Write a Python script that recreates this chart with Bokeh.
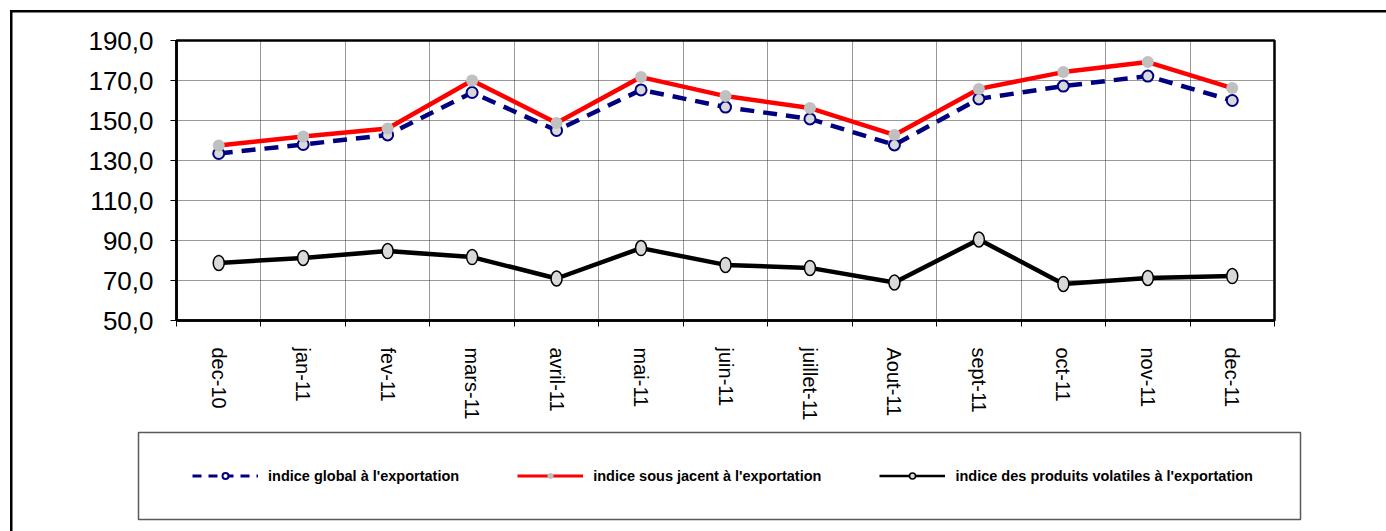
from bokeh.plotting import figure
from bokeh.layouts import column
from bokeh.models import (Range1d, FixedTicker, Legend, LegendItem, ColumnDataSource,
                          BoxAnnotation)
from bokeh.embed import file_html
from bokeh.resources import INLINE

# ---- data -----------------------------------------------------------------
months = ["dec-10", "jan-11", "fev-11", "mars-11", "avril-11", "mai-11", "juin-11",
          "juillet-11", "Aout-11", "sept-11", "oct-11", "nov-11", "dec-11"]
indice_global = [133.5, 138.0, 142.8, 164.0, 145.0, 165.3, 156.7, 150.8, 137.8,
                 160.8, 167.2, 172.2, 160.0]
indice_sous_jacent = [137.5, 142.0, 146.0, 170.0, 148.8, 171.7, 162.2, 156.2, 142.8,
                      165.8, 174.2, 179.2, 166.2]
indice_volatiles = [78.8, 81.3, 84.7, 81.7, 71.0, 86.2, 77.8, 76.3, 69.0, 90.5,
                    68.3, 71.3, 72.2]
y_ticks = [50, 70, 90, 110, 130, 150, 170, 190]
y_tick_labels = ["50,0", "70,0", "90,0", "110,0", "130,0", "150,0", "170,0", "190,0"]
series_names = ["indice global à l'exportation",
                "indice sous jacent à l'exportation",
                "indice des produits volatiles à l'exportation"]

# ---- chart figure ---------------------------------------------------------
n = len(months)
centers = [i + 0.5 for i in range(n)]
bounds = list(range(n + 1))

CHART_H = 430
p = figure(width=1386, height=CHART_H, output_backend="svg", toolbar_location=None,
           x_range=Range1d(0, n), y_range=Range1d(50, 190),
           min_border_left=176, min_border_right=112, min_border_top=40,
           min_border_bottom=CHART_H - 320, background_fill_color="white",
           border_fill_alpha=0)
p.title.visible = False
p.frame_align = False

p.outline_line_color = "black"
p.outline_line_width = 2.5
p.outline_line_alpha = 1

# x axis
xa = p.xaxis[0]
xa.ticker = FixedTicker(ticks=centers, minor_ticks=bounds)
xa.major_label_overrides = {c: m for c, m in zip(centers, months)}
xa.major_label_orientation = "vertical"
xa.major_tick_out = 0
xa.major_tick_in = 0
xa.minor_tick_out = 6
xa.minor_tick_in = 0
xa.minor_tick_line_color = "black"
xa.axis_line_width = 2.5
xa.axis_line_color = "black"
xa.major_label_text_font = "Liberation Sans"
xa.major_label_text_font_size = "20px"
xa.major_label_text_color = "black"
xa.major_label_standoff = 21

# y axis
ya = p.yaxis[0]
ya.ticker = FixedTicker(ticks=y_ticks)
ya.major_label_overrides = {t: l for t, l in zip(y_ticks, y_tick_labels)}
ya.major_tick_out = 6
ya.major_tick_in = 0
ya.minor_tick_out = 0
ya.minor_tick_in = 0
ya.major_tick_line_color = "black"
ya.axis_line_width = 2.5
ya.axis_line_color = "black"
ya.major_label_text_font = "Liberation Sans"
ya.major_label_text_font_size = "26px"
ya.major_label_text_color = "black"
ya.major_label_standoff = 17

# grids
p.xgrid.ticker = FixedTicker(ticks=bounds[1:-1])
p.ygrid.ticker = FixedTicker(ticks=y_ticks[1:-1])
for g in (p.xgrid[0], p.ygrid[0]):
    g.grid_line_color = "#333333"
    g.grid_line_dash = "1 1"
    g.grid_line_width = 1

src = ColumnDataSource(dict(x=centers, month=months, g=indice_global,
                            s=indice_sous_jacent, v=indice_volatiles))

p.line("x", "g", source=src, line_color="#000080", line_width=4.5, line_dash="14 9")
p.scatter("x", "g", source=src, marker="circle", size=11,
          fill_color="#d9d9d9", line_color="#000080", line_width=2)
p.line("x", "s", source=src, line_color="#ff0000", line_width=4.5)
p.scatter("x", "s", source=src, marker="circle", size=12,
          fill_color="#c0c0c0", line_color=None)
p.line("x", "v", source=src, line_color="black", line_width=4.5)
p.ellipse("x", "v", source=src, width=11, height=15, width_units="screen",
          height_units="screen", fill_color="#d9d9d9", line_color="black",
          line_width=1.5)

# ---- legend strip (separate canvas so the legend can sit outside the frame) --
LEG_H = 531 - CHART_H
pl = figure(width=1386, height=LEG_H, output_backend="svg", toolbar_location=None,
            x_axis_location=None, y_axis_location=None, min_border=0,
            x_range=Range1d(0, 1), y_range=Range1d(0, 1),
            background_fill_alpha=0, border_fill_alpha=0)
pl.title.visible = False
pl.frame_align = False
pl.outline_line_color = None
pl.xgrid.visible = False
pl.ygrid.visible = False

# legend frame box
pl.add_layout(BoxAnnotation(left=138, right=1300, top=432 - CHART_H,
                            bottom=519 - CHART_H, left_units="canvas",
                            right_units="canvas", top_units="canvas",
                            bottom_units="canvas", fill_color="white", fill_alpha=1,
                            line_color="#595959", line_width=1.5, line_alpha=1))

# off-range placeholder points: only their legend glyphs are seen
hidden = ColumnDataSource(dict(x=[-5, -4], y=[-5, -4]))
lb1 = pl.line("x", "y", source=hidden, line_color="#000080", line_width=3,
              line_dash="9 7")
lb2 = pl.scatter("x", "y", source=hidden, marker="circle", size=9,
                 fill_color="#ffffff", line_color="#000080", line_width=2)
lr1 = pl.line("x", "y", source=hidden, line_color="#ff0000", line_width=3)
lr2 = pl.scatter("x", "y", source=hidden, marker="circle", size=11,
                 fill_color="#c0c0c0", line_color=None)
lk1 = pl.line("x", "y", source=hidden, line_color="black", line_width=2.5)
lk2 = pl.scatter("x", "y", source=hidden, marker="circle", size=9,
                 fill_color="#d9d9d9", line_color="black", line_width=1.5)

LEG_PAD = 10
legend = Legend(items=[LegendItem(label=series_names[0], renderers=[lb1, lb2]),
                       LegendItem(label=series_names[1], renderers=[lr1, lr2]),
                       LegendItem(label=series_names[2], renderers=[lk1, lk2])],
                orientation="horizontal",
                location=(192 - LEG_PAD, 37.5),
                padding=LEG_PAD, spacing=58, glyph_width=66, glyph_height=15,
                label_standoff=10, label_text_font="Liberation Sans",
                label_text_font_style="bold", label_text_font_size="14.5px",
                label_text_color="black", border_line_alpha=0,
                background_fill_alpha=0, margin=0)
pl.add_layout(legend, "center")

layout = column(p, pl, spacing=0, styles={
    "background": ("linear-gradient(#000, #000) 10px 10px / 2.5px 100% no-repeat, "
                   "linear-gradient(#000, #000) 10px 10px / 100% 2.5px no-repeat, "
                   "#ffffff")
})

open("out.html", "w").write(file_html(layout, INLINE))
